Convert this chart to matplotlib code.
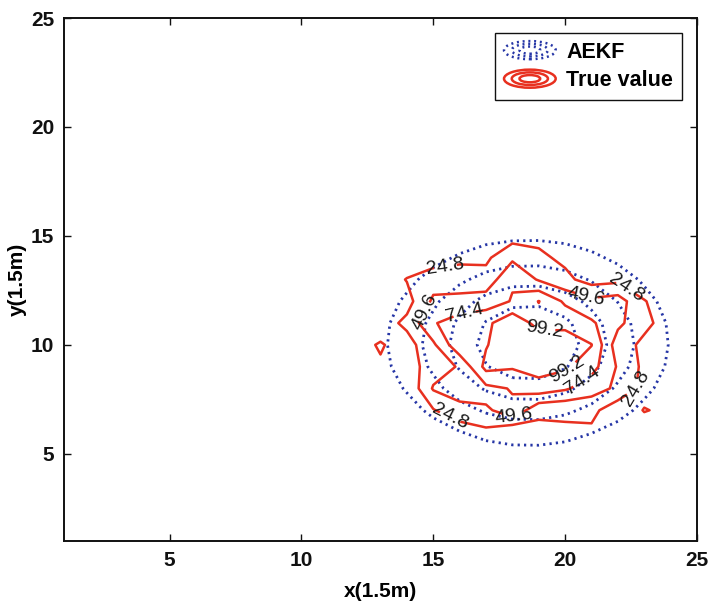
import numpy as np
import matplotlib
matplotlib.use("Agg")
import matplotlib.pyplot as plt
from matplotlib.legend_handler import HandlerBase
from matplotlib.patches import Ellipse
from matplotlib.lines import Line2D

# Sample grid (field is ~0 outside this window)
grid_x = [12, 13, 14, 15, 16, 17, 18, 19, 20, 21, 22, 23, 24, 25]
grid_y = [4, 5, 6, 7, 8, 9, 10, 11, 12, 13, 14, 15, 16]

# AEKF estimate, one row per y (bottom to top)
aekf = [
    [0.6, 1.3, 2.3, 3.7, 5.3, 6.8, 7.7, 7.8, 7.0, 5.7, 4.1, 2.6, 1.5, 0.7],
    [1.5, 3.0, 5.3, 8.6, 12.2, 15.6, 17.7, 17.9, 16.1, 13.0, 9.3, 5.9, 3.4, 1.7],
    [2.9, 5.9, 10.6, 17.0, 24.2, 30.8, 35.0, 35.4, 31.9, 25.6, 18.4, 11.8, 6.7, 3.4],
    [5.0, 10.1, 18.0, 28.9, 41.3, 52.5, 59.7, 60.3, 54.4, 43.7, 31.4, 20.0, 11.4, 5.8],
    [7.3, 14.8, 26.5, 42.5, 60.6, 77.1, 87.6, 88.6, 79.8, 64.2, 46.1, 29.4, 16.7, 8.5],
    [9.2, 18.7, 33.5, 53.8, 76.9, 97.8, 111.1, 112.3, 101.2, 81.3, 58.4, 37.3, 21.2, 10.8],
    [10.1, 20.5, 36.7, 58.8, 84.0, 106.9, 121.4, 122.8, 110.6, 88.9, 63.8, 40.8, 23.2, 11.8],
    [9.5, 19.3, 34.6, 55.5, 79.2, 100.8, 114.5, 115.8, 104.3, 83.8, 60.2, 38.4, 21.9, 11.1],
    [7.7, 15.7, 28.1, 45.1, 64.3, 81.9, 92.9, 94.0, 84.7, 68.1, 48.9, 31.2, 17.7, 9.0],
    [5.4, 11.0, 19.7, 31.6, 45.1, 57.4, 65.1, 65.9, 59.3, 47.7, 34.3, 21.9, 12.4, 6.3],
    [3.3, 6.6, 11.9, 19.1, 27.2, 34.7, 39.4, 39.8, 35.9, 28.8, 20.7, 13.2, 7.5, 3.8],
    [1.7, 3.5, 6.2, 10.0, 14.2, 18.1, 20.5, 20.8, 18.7, 15.0, 10.8, 6.9, 3.9, 2.0],
    [0.8, 1.6, 2.8, 4.5, 6.4, 8.1, 9.2, 9.3, 8.4, 6.7, 4.8, 3.1, 1.8, 0.9],
]

# True field, one row per y (bottom to top)
true_value = [
    [2, 1, 1, 1, 1, 1, 0, 1, 1, 1, 1, 1, 1, 0],
    [3, 2, 1, 3, 3, 6, 1, 5, 6, 5, 2, 4, 3, 1],
    [4, 3, 3, 8, 7, 20, 3, 17.5, 22, 20, 5, 12, 8, 3],
    [6, 5, 5, 23, 44, 43, 70, 30.5, 28, 32, 8, 26, 20, 5],
    [9, 12, 3, 52, 58, 68, 76, 88.4, 78, 60, 45, 16, 10, 3],
    [12, 22, 13, 37, 52, 107, 102, 110, 104, 84, 47, 19, 10, 3],
    [16, 27, 14, 45, 94, 97, 122, 118, 112, 100, 35, 20, 12, 4],
    [12, 12, 31, 72, 88, 93, 118, 90, 93, 78, 56, 30, 15, 5],
    [9, 10, 15.5, 54, 55, 62, 76, 100, 70, 56, 62, 26, 12, 4],
    [7, 9, 26, 39, 40, 34, 72, 47, 31, 14.5, 18, 10, 6, 2],
    [5, 4, 8, 12, 18, 20, 45, 30, 19.3, 8, 6, 4, 3, 1],
    [3, 2, 3, 5, 6, 8, 14, 18, 8, 4, 3, 2, 1, 0],
    [2, 1, 1, 2, 2, 3, 5, 5, 3, 2, 1, 1, 0, 0],
]

levels = [24.8, 49.6, 74.4, 99.2]
ticks = [5, 10, 15, 20, 25]
series_names = ["AEKF", "True value"]

BLUE = "#2636a6"
RED = "#e8301f"
DOTS = (0, (0.8, 1.5))

plt.rcParams["font.family"] = ["Liberation Sans", "DejaVu Sans"]

fig = plt.figure(figsize=(7.11, 6.03), dpi=100)
ax = fig.add_axes([64 / 711, 62 / 603, 633 / 711, 523 / 603])

X, Y = np.meshgrid(grid_x, grid_y)

cs_est = ax.contour(X, Y, np.array(aekf), levels=levels, colors=BLUE,
                    linewidths=2.0)
cs_est.set_linestyle(DOTS)

cs_true = ax.contour(X, Y, np.array(true_value), levels=levels, colors=RED,
                     linewidths=1.8)

# label spots on the true-value contours
label_spots = [
    (15.45, 13.7), (14.7, 11.5), (16.2, 11.3), (19.2, 10.65),
    (20.8, 12.2), (22.3, 12.6), (20.1, 8.85), (20.7, 8.3),
    (22.75, 7.95), (18.0, 6.8), (15.6, 6.6),
]
ax.clabel(cs_true, fmt="%.1f", fontsize=14, colors="#1a1a1a",
          inline=True, inline_spacing=2, manual=label_spots)

ax.set_xlim(1, 25)
ax.set_ylim(1, 25)
ax.set_xticks(ticks)
ax.set_yticks(ticks)
ax.tick_params(direction="in", length=5, width=1.0, top=True, right=True,
               labelsize=15, pad=7, colors="#111111")
for lbl in ax.get_xticklabels() + ax.get_yticklabels():
    lbl.set_fontweight("bold")
for sp in ax.spines.values():
    sp.set_linewidth(1.4)
    sp.set_color("#111111")

ax.set_xlabel("x(1.5m)", fontsize=15, fontweight="bold", labelpad=9)
ax.set_ylabel("y(1.5m)", fontsize=15, fontweight="bold", labelpad=3)


class RingsHandler(HandlerBase):
    """Legend key drawn as a set of nested ellipses."""

    def __init__(self, color, linestyle, rings, lw):
        super().__init__()
        self.color = color
        self.linestyle = linestyle
        self.rings = rings
        self.lw = lw

    def create_artists(self, legend, orig_handle, xdescent, ydescent,
                       width, height, fontsize, trans):
        cx = width / 2 - xdescent
        cy = height / 2 - ydescent
        arts = []
        for k in range(self.rings):
            f = 1.0 - k * 0.3
            e = Ellipse((cx, cy), width * f, height * 1.2 * f, fill=False,
                        edgecolor=self.color, linewidth=self.lw,
                        linestyle=self.linestyle, transform=trans)
            arts.append(e)
        return arts


h_est = Line2D([], [], color=BLUE)
h_true = Line2D([], [], color=RED)
leg = ax.legend([h_est, h_true], series_names, loc="upper right",
                handler_map={h_est: RingsHandler(BLUE, DOTS, 3, 1.8),
                             h_true: RingsHandler(RED, "-", 3, 1.8)},
                prop={"weight": "bold", "size": 15.5}, frameon=True,
                fancybox=False, edgecolor="#111111", framealpha=1,
                handlelength=2.4, handletextpad=0.5, borderaxespad=0.7,
                labelspacing=0.35, borderpad=0.4)
leg.get_frame().set_linewidth(1.0)

fig.savefig("out.png", dpi=100, facecolor="white")
